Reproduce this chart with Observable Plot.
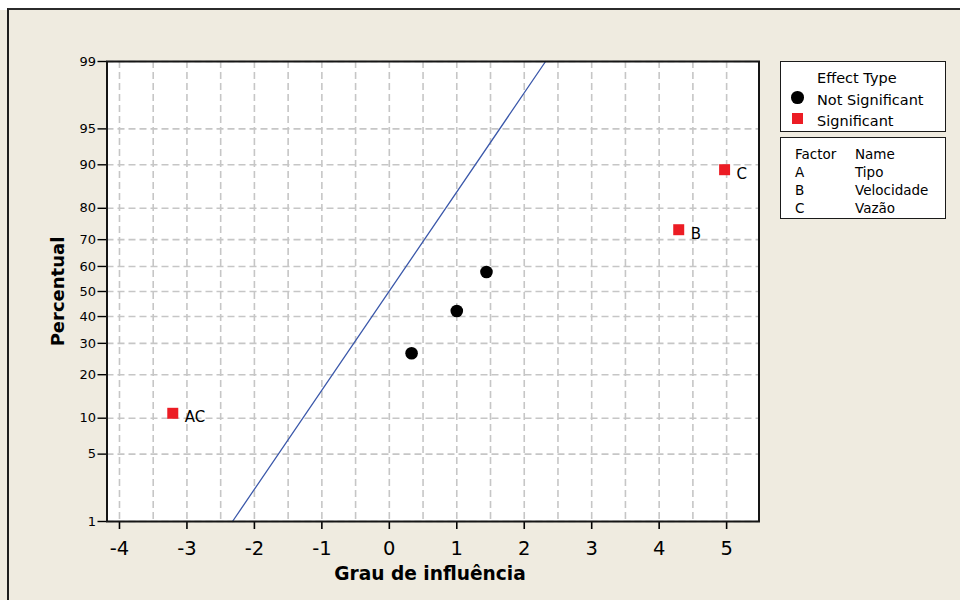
<!DOCTYPE html>
<html>
<head>
<meta charset="utf-8">
<script src="https://cdn.jsdelivr.net/npm/d3@7"></script>
<script src="https://cdn.jsdelivr.net/npm/@observablehq/plot@0.6"></script>
<style>
  html, body { margin: 0; padding: 0; background: #ffffff; }
  #wrap { position: relative; width: 960px; height: 600px; overflow: hidden; font-family: "DejaVu Sans", Verdana, sans-serif; color: #000; }
  #bg { position: absolute; left: 7px; top: 8px; right: 0; bottom: 0; background: #efebe0; border-top: 2px solid #2b2b2b; border-left: 2px solid #1e1e1e; }
  #bgleft { position: absolute; left: 0; top: 10px; width: 7px; bottom: 0; background: #efebe0; }
  #chart { position: absolute; left: 0; top: 0; }
  .box { position: absolute; box-sizing: border-box; background: #ffffff; border: 1.5px solid #1a1a1a; }
  .lt { position: absolute; white-space: pre; line-height: 1; }
  .sym { position: absolute; }
</style>
</head>
<body>
<div id="wrap">
  <div id="bgleft"></div>
  <div id="bg"></div>
  <div id="chart"></div>
</div>
<script>
// ---- Data ----
const effects     = [-3.21, 0.33, 1.00, 1.44, 4.29, 4.97];
const percents    = [10.9, 26.6, 42.2, 57.8, 73.4, 89.1];
const effectTypes = ["Significant", "Not Significant", "Not Significant", "Not Significant", "Significant", "Significant"];
const termLabels  = ["AC", "", "", "", "B", "C"];

// fitted normal line (effect at 1% and 99%)
const fitEffects  = [-2.325, 2.316];
const fitPercents = [1, 99];

// axes
const xTicks = [-4, -3, -2, -1, 0, 1, 2, 3, 4, 5];
const xGrid  = [-4, -3.5, -3, -2.5, -2, -1.5, -1, -0.5, 0, 0.5, 1, 1.5, 2, 2.5, 3, 3.5, 4, 4.5, 5];
const yTicks = [1, 5, 10, 20, 30, 40, 50, 60, 70, 80, 90, 95, 99];

// legends
const legendTypes  = ["Not Significant", "Significant"];
const factorCodes  = ["A", "B", "C"];
const factorNames  = ["Tipo", "Velocidade", "Vazão"];

// ---- inverse normal CDF (Acklam) ----
function probit(p) {
  const a = [-3.969683028665376e+01, 2.209460984245205e+02, -2.759285104469687e+02, 1.383577518672690e+02, -3.066479806614716e+01, 2.506628277459239e+00];
  const b = [-5.447609879822406e+01, 1.615858368580409e+02, -1.556989798598866e+02, 6.680131188771972e+01, -1.328068155288572e+01];
  const c = [-7.784894002430293e-03, -3.223964580411365e-01, -2.400758277161838e+00, -2.549671010229528e+00, 4.374664141464968e+00, 2.938163982698783e+00];
  const d = [7.784695709041462e-03, 3.224671290700398e-01, 2.445134137142996e+00, 3.754408661907416e+00];
  const pl = 0.02425, ph = 1 - pl;
  if (p < pl) {
    const q = Math.sqrt(-2 * Math.log(p));
    return (((((c[0]*q+c[1])*q+c[2])*q+c[3])*q+c[4])*q+c[5]) / ((((d[0]*q+d[1])*q+d[2])*q+d[3])*q+1);
  }
  if (p <= ph) {
    const q = p - 0.5, r = q * q;
    return (((((a[0]*r+a[1])*r+a[2])*r+a[3])*r+a[4])*r+a[5])*q / (((((b[0]*r+b[1])*r+b[2])*r+b[3])*r+b[4])*r+1);
  }
  const q = Math.sqrt(-2 * Math.log(1 - p));
  return -(((((c[0]*q+c[1])*q+c[2])*q+c[3])*q+c[4])*q+c[5]) / ((((d[0]*q+d[1])*q+d[2])*q+d[3])*q+1);
}

const points = effects.map((e, i) => ({effect: e, z: probit(percents[i] / 100), type: effectTypes[i], label: termLabels[i]}));
const sig = points.filter(d => d.type === "Significant");
const notSig = points.filter(d => d.type === "Not Significant");
const fitData = fitEffects.map((e, i) => ({effect: e, z: probit(fitPercents[i] / 100)}));
const yTickZ = yTicks.map(p => probit(p / 100));
const yLabel = new Map(yTickZ.map((z, i) => [z, String(yTicks[i])]));

const RED = "#ec1c24";
const GRID = "#c6c6c6";

const chart = Plot.plot({
  width: 960,
  height: 600,
  marginLeft: 106.5,
  marginRight: 201.5,
  marginTop: 61,
  marginBottom: 79,
  style: {background: "transparent", fontFamily: "DejaVu Sans, Verdana, sans-serif", color: "#000"},
  x: {domain: [-4.185, 5.48], label: null, axis: null},
  y: {domain: [probit(0.01), probit(0.99)], label: null, axis: null},
  marks: [
    Plot.frame({fill: "#ffffff", stroke: "none"}),
    Plot.ruleX(xGrid, {stroke: GRID, strokeWidth: 1.6, strokeDasharray: "7,4"}),
    Plot.ruleY(yTickZ, {stroke: GRID, strokeWidth: 1.6, strokeDasharray: "7,4"}),
    Plot.line(fitData, {x: "effect", y: "z", stroke: "#3b58aa", strokeWidth: 1.3}),
    Plot.dot(notSig, {x: "effect", y: "z", r: 6.3, fill: "#000", symbol: "circle"}),
    Plot.dot(sig, {x: "effect", y: "z", r: 6.2, fill: RED, symbol: "square"}),
    Plot.text(sig, {x: "effect", y: "z", text: "label", dx: 12, dy: 4, textAnchor: "start", fontSize: 15, fill: "#000"}),
    // x axis: ticks + labels
    Plot.axisX(xTicks, {tickSize: 8, strokeWidth: 1.6, tickFormat: () => "", label: null}),
    Plot.text(xTicks, {x: d => d, frameAnchor: "bottom", lineAnchor: "top", dy: 20, fontSize: 19.5, text: d => String(d), fill: "#000"}),
    // y axis: ticks + labels
    Plot.axisY(yTickZ, {tickSize: 9, strokeWidth: 1.4, tickFormat: () => "", label: null}),
    Plot.text(yTickZ, {y: d => d, frameAnchor: "left", textAnchor: "end", dx: -11, fontSize: 13, text: z => yLabel.get(z), fill: "#000"}),
    // axis titles
    Plot.text(["Grau de influência"], {frameAnchor: "bottom", dy: 53, dx: -3, fontSize: 18.6, fontWeight: "bold", textAnchor: "middle", lineAnchor: "middle"}),
    Plot.text(["Percentual"], {frameAnchor: "left", dx: -48.5, rotate: -90, fontSize: 18, fontWeight: "bold", textAnchor: "middle", lineAnchor: "middle"}),
    Plot.frame({stroke: "#151515", strokeWidth: 2})
  ]
});
document.getElementById("chart").appendChild(chart);

// ---- Legend (HTML overlay) ----
const wrap = document.getElementById("wrap");
function box(x0, y0, x1, y1) {
  const b = document.createElement("div");
  b.className = "box";
  Object.assign(b.style, {left: x0 + "px", top: y0 + "px", width: (x1 - x0) + "px", height: (y1 - y0) + "px"});
  wrap.appendChild(b);
}
function label(txt, x, baseline, size) {
  const t = document.createElement("div");
  t.className = "lt";
  t.textContent = txt;
  Object.assign(t.style, {left: x + "px", top: (baseline - 0.846 * size) + "px", fontSize: size + "px"});
  wrap.appendChild(t);
}
function symbol(kind, cx, cy) {
  const s = document.createElement("div");
  s.className = "sym";
  if (kind === "Not Significant") {
    Object.assign(s.style, {left: (cx - 6.3) + "px", top: (cy - 6.3) + "px", width: "12.6px", height: "12.6px", borderRadius: "50%", background: "#000"});
  } else {
    Object.assign(s.style, {left: (cx - 5.5) + "px", top: (cy - 5.5) + "px", width: "11px", height: "11px", background: RED});
  }
  wrap.appendChild(s);
}

box(779.5, 61, 945.5, 132);
label("Effect Type", 817, 83, 14.5);
legendTypes.forEach((t, i) => {
  symbol(t, 797.5, 97.5 + i * 21);
  label(t, 817, 105 + i * 21.5, 14.5);
});

box(779.5, 137, 945.5, 218.5);
label("Factor", 795, 159, 13.5);
label("Name", 855, 159, 13.5);
factorCodes.forEach((c, i) => {
  label(c, 795, 177 + i * 18, 13.5);
  label(factorNames[i], 855, 177 + i * 18, 13.5);
});
</script>
</body>
</html>
